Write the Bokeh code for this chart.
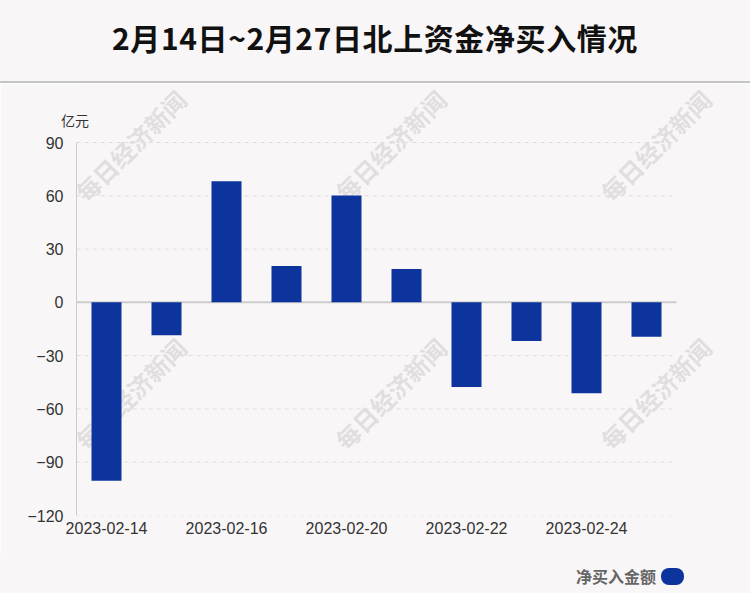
from bokeh.plotting import figure
from bokeh.models import Range1d, FixedTicker, Label, Div, ColumnDataSource
from bokeh.layouts import column
from bokeh.embed import file_html
from bokeh.resources import INLINE
import math

# ---- data ----
dates = ["2023-02-14", "2023-02-15", "2023-02-16", "2023-02-17", "2023-02-20",
         "2023-02-21", "2023-02-22", "2023-02-23", "2023-02-24", "2023-02-27"]
net_buy = [-100.4, -18.5, 68.2, 20.5, 60.2, 18.8, -47.6, -21.7, -51.2, -19.4]
y_ticks = [90, 60, 30, 0, -30, -60, -90, -120]
x_label_idx = [0, 2, 4, 6, 8]
title_text = "2月14日~2月27日北上资金净买入情况"
unit_text = "亿元"
legend_text = "净买入金额"
watermark_text = "每日经济新闻"

BG = "#f9f6f7"
BAR = "#0d349d"
W = 750

# ---- title block (also carries the unit text, which sits just above the plot) ----
title_div = Div(
    text=("<div style='position:relative;overflow:visible;width:%dpx;height:83px;'>"
          "<div style='width:%dpx;height:83px;box-sizing:border-box;padding-top:21px;"
          "text-align:center;font-family:\"Noto Sans CJK SC\";font-weight:bold;font-size:30px;"
          "line-height:32px;letter-spacing:0.6px;color:#111;background:%s;"
          "border-bottom:2px solid #c4c4c4;'>%s</div>"
          "<span style='position:absolute;left:61px;top:112px;white-space:nowrap;"
          "font-family:\"Noto Sans CJK SC\";font-size:14px;line-height:16px;color:#333;'>%s</span>"
          "</div>") % (W, W, BG, title_text, unit_text),
    width=W, height=83, margin=0,
    styles={"background-color": BG, "overflow": "visible", "z-index": "10"},
)

# ---- main figure ----
n = len(dates)
idx = list(range(n))
src = ColumnDataSource(dict(x=idx, top=net_buy))

y_min, y_max = min(y_ticks), max(y_ticks)
plot_h = 373                      # pixel height of the -120..90 span
ppu = plot_h / (y_max - y_min)    # pixels per unit (y)
cat_w = 60.0                      # pixels per category (x)
top_pad = 59                      # free room above the 90 line
right_pad = 74                    # free room right of the last category

p = figure(width=W, height=472, output_backend="svg", toolbar_location=None,
           x_range=Range1d(-0.5, n - 0.5 + right_pad / cat_w),
           y_range=Range1d(y_min, y_max + top_pad / ppu),
           min_border_left=76, min_border_right=0, min_border_top=0, min_border_bottom=40)
p.background_fill_color = BG
p.border_fill_color = BG
p.outline_line_color = None

# watermarks (behind everything)
for wx, wy in [(0.4, 88.3), (4.73, 88.3), (9.15, 88.3), (0.4, -51.3), (4.73, -51.3), (9.15, -51.3)]:
    p.add_layout(Label(x=wx, y=wy, text=watermark_text, angle=math.pi / 4,
                       text_font="Noto Sans CJK SC", text_font_style="bold",
                       text_font_size="24px", text_color="#dcd8d9", text_alpha=0.8,
                       text_align="center", text_baseline="middle", level="image"))

# grid lines and zero line
grid_vals = [t for t in y_ticks if t != 0]
p.segment(x0=[-0.5] * len(grid_vals), x1=[n - 0.5] * len(grid_vals), y0=grid_vals, y1=grid_vals,
          line_color="#e0dddd", line_width=1, line_dash="4 4")
p.segment(x0=[-0.5], x1=[n - 0.5], y0=[0], y1=[0], line_color="#cccccc", line_width=2)

p.vbar(x="x", top="top", bottom=0, width=0.5, source=src, fill_color=BAR, line_color=None)

# axes
p.yaxis.ticker = FixedTicker(ticks=y_ticks)
p.yaxis.bounds = (y_min, y_max)
p.yaxis.axis_line_color = "#cccccc"
p.yaxis.major_tick_line_color = None
p.yaxis.minor_tick_line_color = None
p.yaxis.major_tick_out = 0
p.yaxis.major_label_standoff = 13
p.yaxis.major_label_text_font = "Liberation Sans"
p.yaxis.major_label_text_font_size = "16px"
p.yaxis.major_label_text_color = "#333333"

p.xaxis.ticker = FixedTicker(ticks=x_label_idx)
p.xaxis.major_label_overrides = {i: dates[i] for i in x_label_idx}
p.xaxis.axis_line_color = None
p.xaxis.major_tick_line_color = None
p.xaxis.minor_tick_line_color = None
p.xaxis.major_tick_out = 0
p.xaxis.major_label_standoff = 6
p.xaxis.major_label_text_font = "Liberation Sans"
p.xaxis.major_label_text_font_size = "16px"
p.xaxis.major_label_text_color = "#333333"

p.grid.grid_line_color = None

# ---- legend block ----
legend_div = Div(
    text=("<div style='width:%dpx;height:38px;box-sizing:border-box;display:flex;"
          "justify-content:flex-end;align-items:center;padding-right:66px;padding-top:4px;background:%s;'>"
          "<span style='font-family:\"Noto Sans CJK SC\";font-weight:bold;font-size:16px;color:#666;'>%s</span>"
          "<span style='display:inline-block;width:23px;height:17px;border-radius:8px;background:%s;"
          "margin-left:5px;'></span></div>") % (W, BG, legend_text, BAR),
    width=W, height=38, margin=0,
    styles={"background-color": BG},
)

layout = column(title_div, p, legend_div, spacing=0)
open("out.html", "w").write(file_html(layout, INLINE))
